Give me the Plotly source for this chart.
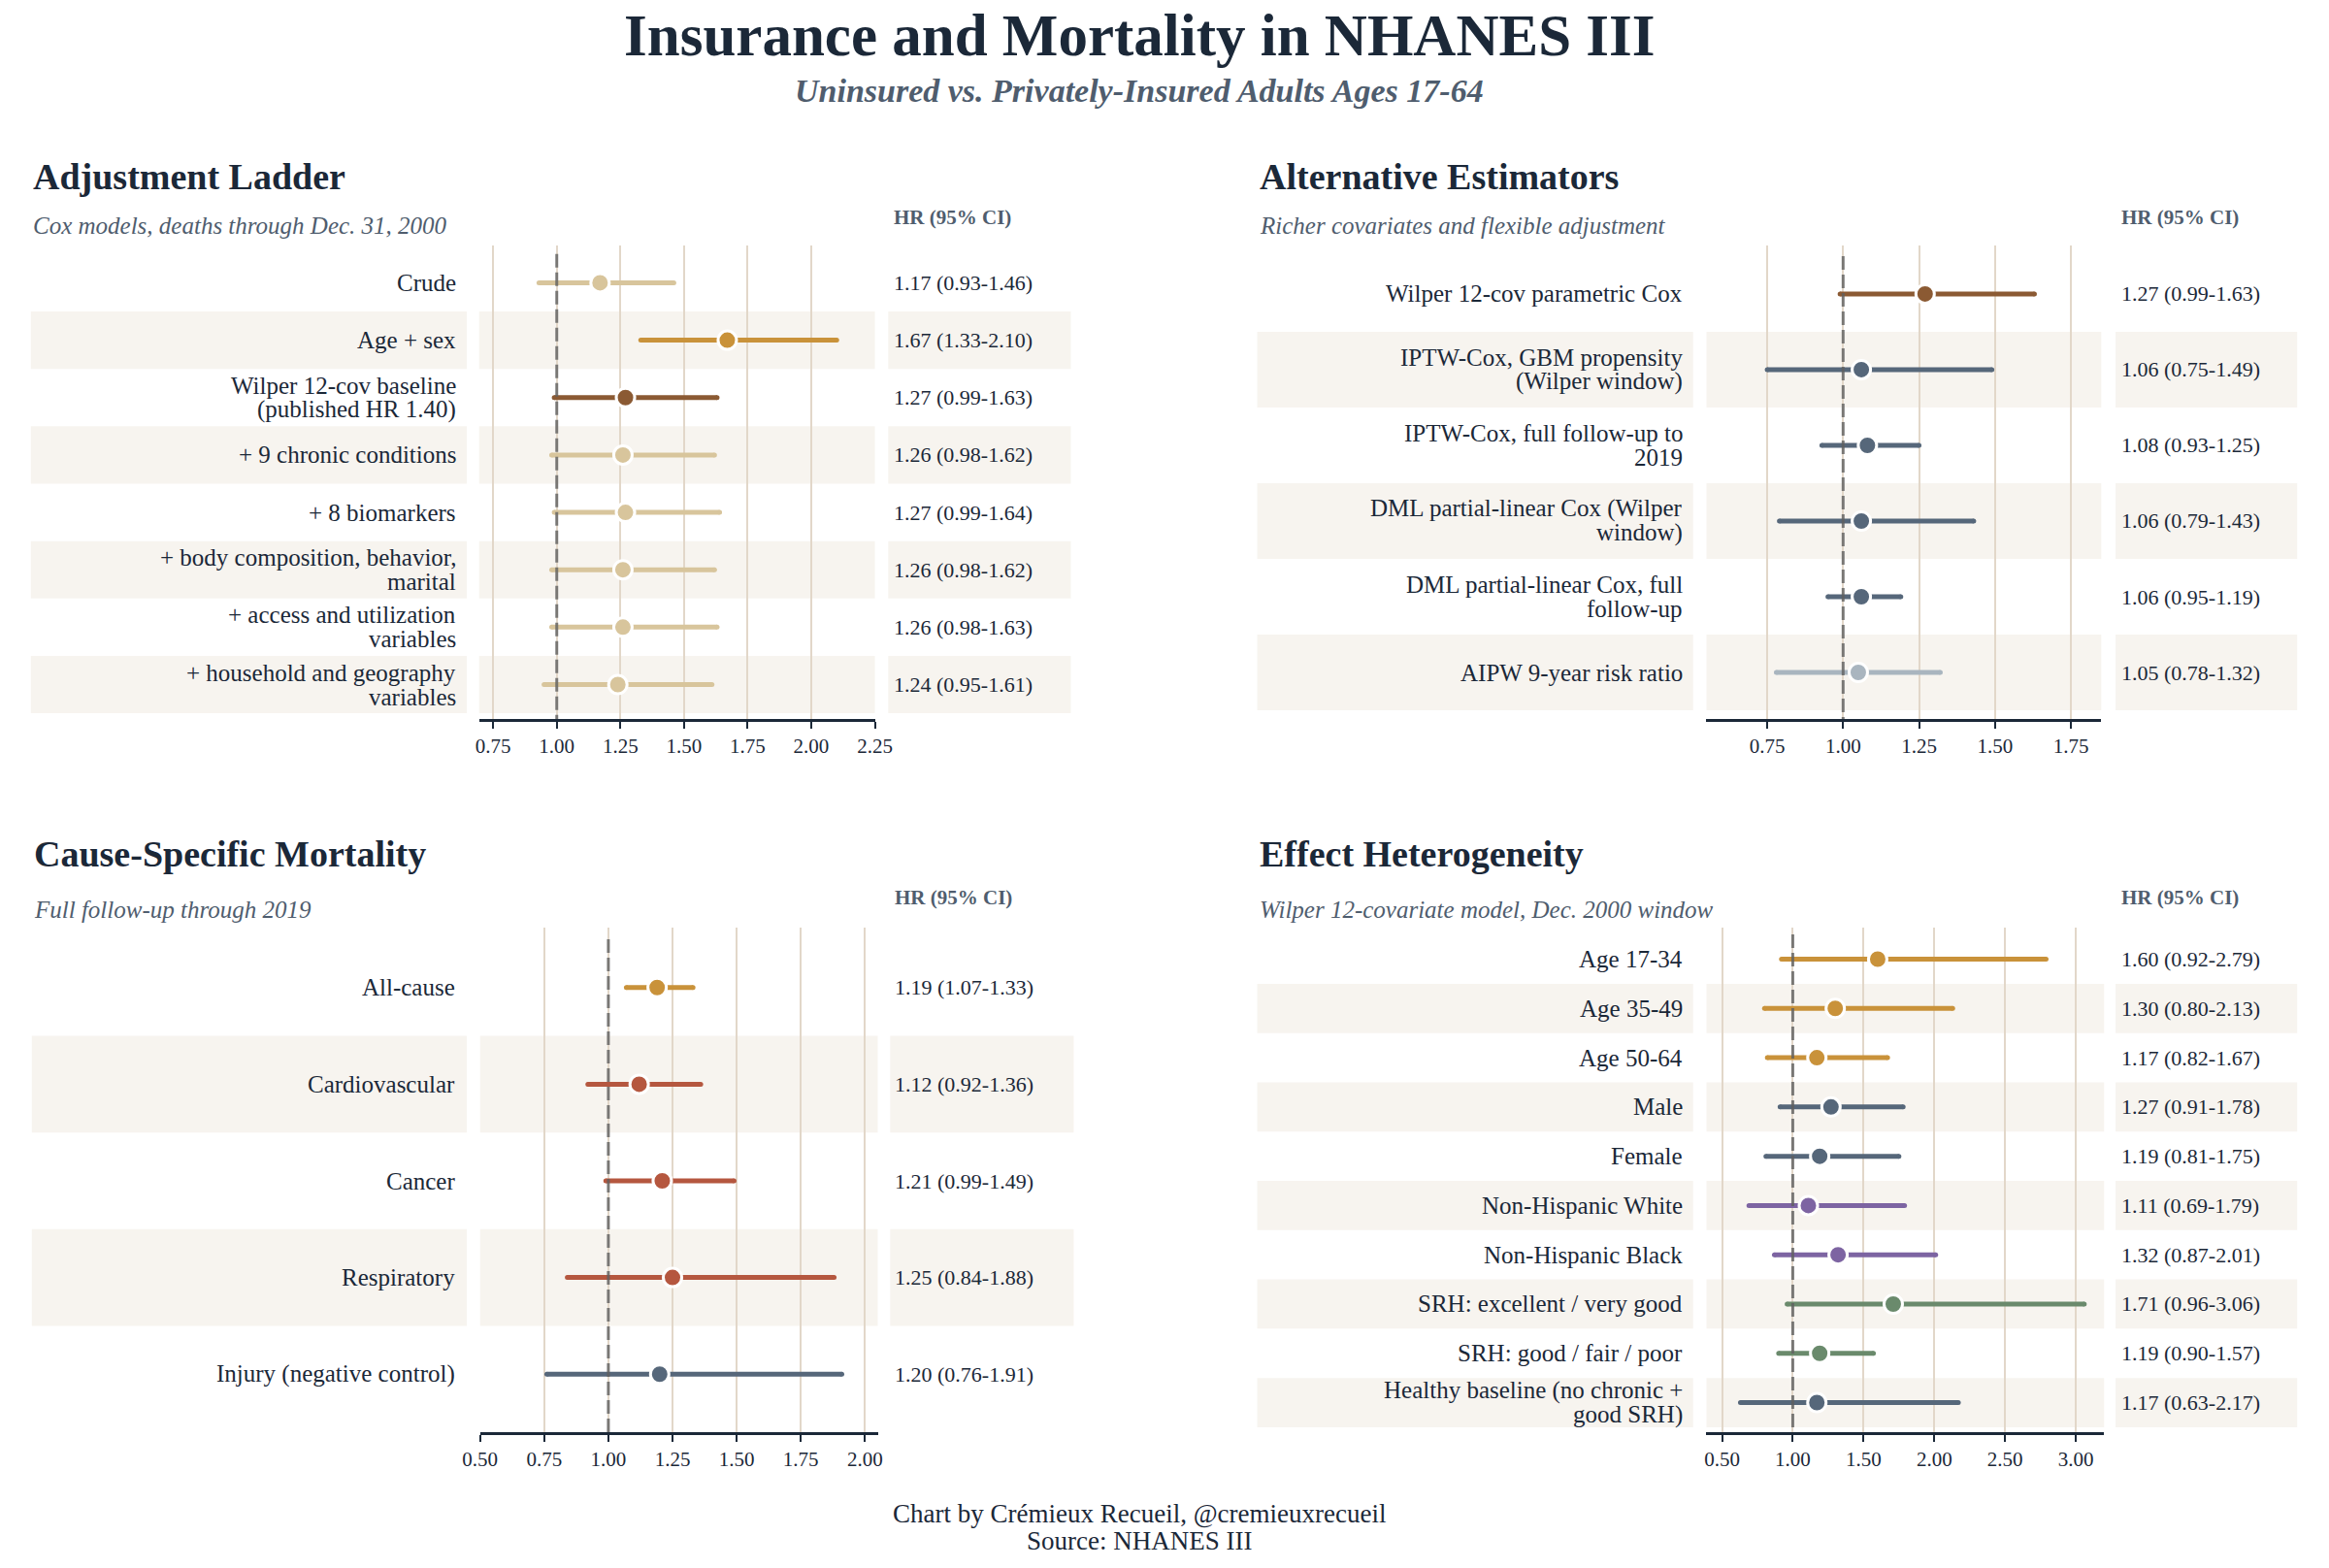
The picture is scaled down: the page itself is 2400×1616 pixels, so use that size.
import plotly.graph_objects as go

# ---------------- DATA ----------------
p1_labels = ["Crude", "Age + sex", "Wilper 12-cov baseline<br>(published HR 1.40)",
             "+ 9 chronic conditions", "+ 8 biomarkers",
             "+ body composition, behavior,<br>marital", "+ access and utilization<br>variables",
             "+ household and geography<br>variables"]
p1_hr = [1.17, 1.67, 1.27, 1.26, 1.27, 1.26, 1.26, 1.24]
p1_lo = [0.93, 1.33, 0.99, 0.98, 0.99, 0.98, 0.98, 0.95]
p1_hi = [1.46, 2.10, 1.63, 1.62, 1.64, 1.62, 1.63, 1.61]

p2_labels = ["Wilper 12-cov parametric Cox", "IPTW-Cox, GBM propensity<br>(Wilper window)",
             "IPTW-Cox, full follow-up to<br>2019", "DML partial-linear Cox (Wilper<br>window)",
             "DML partial-linear Cox, full<br>follow-up", "AIPW 9-year risk ratio"]
p2_hr = [1.27, 1.06, 1.08, 1.06, 1.06, 1.05]
p2_lo = [0.99, 0.75, 0.93, 0.79, 0.95, 0.78]
p2_hi = [1.63, 1.49, 1.25, 1.43, 1.19, 1.32]

p3_labels = ["All-cause", "Cardiovascular", "Cancer", "Respiratory", "Injury (negative control)"]
p3_hr = [1.19, 1.12, 1.21, 1.25, 1.20]
p3_lo = [1.07, 0.92, 0.99, 0.84, 0.76]
p3_hi = [1.33, 1.36, 1.49, 1.88, 1.91]

p4_labels = ["Age 17-34", "Age 35-49", "Age 50-64", "Male", "Female", "Non-Hispanic White",
             "Non-Hispanic Black", "SRH: excellent / very good", "SRH: good / fair / poor",
             "Healthy baseline (no chronic +<br>good SRH)"]
p4_hr = [1.60, 1.30, 1.17, 1.27, 1.19, 1.11, 1.32, 1.71, 1.19, 1.17]
p4_lo = [0.92, 0.80, 0.82, 0.91, 0.81, 0.69, 0.87, 0.96, 0.90, 0.63]
p4_hi = [2.79, 2.13, 1.67, 1.78, 1.75, 1.79, 2.01, 3.06, 1.57, 2.17]

p1_ticks = [0.75, 1.00, 1.25, 1.50, 1.75, 2.00, 2.25]
p2_ticks = [0.75, 1.00, 1.25, 1.50, 1.75]
p3_ticks = [0.50, 0.75, 1.00, 1.25, 1.50, 1.75, 2.00]
p4_ticks = [0.50, 1.00, 1.50, 2.00, 2.50, 3.00]

titles = ["Adjustment Ladder", "Alternative Estimators", "Cause-Specific Mortality", "Effect Heterogeneity"]
subtitles = ["Cox models, deaths through Dec. 31, 2000", "Richer covariates and flexible adjustment",
             "Full follow-up through 2019", "Wilper 12-covariate model, Dec. 2000 window"]

# ---------------- STYLE ----------------
COL = {"tan": "#D8C59C", "gold": "#C9923A", "brown": "#8B5A33", "slate": "#56677A",
       "lslate": "#A9B5BF", "rust": "#B5573F", "purple": "#7D64A2", "green": "#6A8A6C"}
p1_groups = ["tan", "gold", "brown", "tan", "tan", "tan", "tan", "tan"]
p2_groups = ["brown", "slate", "slate", "slate", "slate", "lslate"]
p3_groups = ["gold", "rust", "rust", "rust", "slate"]
p4_groups = ["gold", "gold", "gold", "slate", "slate", "purple", "purple", "green", "green", "slate"]

W, H = 2400, 1616
FONT = "Liberation Serif"
NAVY = "#1B2838"
SLATE_TXT = "#4F5D6E"
STRIPE = "#F7F4EF"
GRID = "#E2D7C9"
LINE_GAP = 25  # px between the two lines of a wrapped label

def px(x):
    return x / W

def py(y):
    return 1 - y / H

panels = [
    dict(labels=p1_labels, hr=p1_hr, lo=p1_lo, hi=p1_hi, groups=p1_groups, ticks=p1_ticks,
         xdom=(483, 897), ydom=(253, 741), xr=[0.695, 2.25], yr=[7.6, -0.65],
         lab=(14, 470), txt=(911, 1102), labx=461, hrx=915, tx=14, ty=(182, 233, 224)),
    dict(labels=p2_labels, hr=p2_hr, lo=p2_lo, hi=p2_hi, groups=p2_groups, ticks=p2_ticks,
         xdom=(1767, 2180), ydom=(253, 741), xr=[0.55, 1.85], yr=[5.615, -0.64],
         lab=(1297, 1753), txt=(2195, 2385), labx=1744, hrx=2199, tx=1297, ty=(182, 233, 224)),
    dict(labels=p3_labels, hr=p3_hr, lo=p3_lo, hi=p3_hi, groups=p3_groups, ticks=p3_ticks,
         xdom=(484, 900), ydom=(956, 1476), xr=[0.50, 2.05], yr=[4.6, -0.62],
         lab=(15, 470), txt=(913, 1105), labx=460, hrx=916, tx=15, ty=(880, 937, 925)),
    dict(labels=p4_labels, hr=p4_hr, lo=p4_lo, hi=p4_hi, groups=p4_groups, ticks=p4_ticks,
         xdom=(1767, 2183), ydom=(956, 1476), xr=[0.39, 3.2], yr=[9.6, -0.64],
         lab=(1297, 1753), txt=(2195, 2385), labx=1744, hrx=2199, tx=1297, ty=(880, 937, 925)),
]

fig = go.Figure()
shapes = []
annotations = []
layout_axes = {}

for k, p in enumerate(panels):
    n = len(p["hr"])
    sfx = "" if k == 0 else str(k + 1)
    xa, ya = "x" + sfx, "y" + sfx
    layout_axes["xaxis" + sfx] = dict(
        domain=[px(p["xdom"][0]), px(p["xdom"][1])], anchor=ya, range=p["xr"],
        tickvals=p["ticks"], ticktext=["%.2f" % t for t in p["ticks"]],
        showgrid=True, gridcolor=GRID, gridwidth=2, zeroline=False,
        showline=True, linecolor=NAVY, linewidth=3, ticks="outside", ticklen=7,
        tickwidth=2, tickcolor=NAVY, tickfont=dict(family=FONT, size=21, color=NAVY),
        fixedrange=True)
    layout_axes["yaxis" + sfx] = dict(
        domain=[py(p["ydom"][1]), py(p["ydom"][0])], anchor=xa, range=p["yr"],
        showgrid=False, zeroline=False, showticklabels=False, showline=False, fixedrange=True)

    # stripes
    for i in range(1, n, 2):
        for (a, b) in [p["lab"], p["xdom"], p["txt"]]:
            shapes.append(dict(type="rect", xref="paper", yref=ya, x0=px(a), x1=px(b),
                               y0=i - 0.5, y1=i + 0.5, fillcolor=STRIPE, line=dict(width=0),
                               layer="below"))

    # CI lines (end markers give round caps)
    for i in range(n):
        c = COL[p["groups"][i]]
        fig.add_trace(go.Scatter(x=[p["lo"][i], p["hi"][i]], y=[i, i], xaxis=xa, yaxis=ya,
                                 mode="lines+markers", line=dict(color=c, width=5),
                                 marker=dict(size=5, color=c, line=dict(width=0)),
                                 hoverinfo="skip", showlegend=False))
    # reference line at HR = 1
    fig.add_trace(go.Scatter(x=[1, 1], y=[-0.5, p["yr"][0]], xaxis=xa, yaxis=ya, mode="lines",
                             line=dict(color="rgba(95,95,95,0.8)", width=3, dash="14px,5px"),
                             hoverinfo="skip", showlegend=False))
    # point estimates
    fig.add_trace(go.Scatter(x=p["hr"], y=list(range(n)), xaxis=xa, yaxis=ya, mode="markers",
                             marker=dict(size=19, color=[COL[g] for g in p["groups"]],
                                         line=dict(color="white", width=3)),
                             hoverinfo="skip", showlegend=False))

    # labels & values
    for i in range(n):
        lines = p["labels"][i].split("<br>")
        m = len(lines)
        for j, ln in enumerate(lines):
            shift = ((m - 1) / 2 - j) * LINE_GAP
            annotations.append(dict(xref="paper", yref=ya, x=px(p["labx"]), y=i, yshift=shift,
                                    text=ln, xanchor="right", yanchor="middle", align="right",
                                    showarrow=False, font=dict(family=FONT, size=25, color=NAVY)))
        annotations.append(dict(xref="paper", yref=ya, x=px(p["hrx"]), y=i,
                                text="%.2f (%.2f-%.2f)" % (p["hr"][i], p["lo"][i], p["hi"][i]),
                                xanchor="left", yanchor="middle", showarrow=False,
                                font=dict(family=FONT, size=22, color=NAVY)))
    # panel title, subtitle, header
    annotations.append(dict(xref="paper", yref="paper", x=px(p["tx"]), y=py(p["ty"][0]),
                            text="<b>%s</b>" % titles[k], xanchor="left", yanchor="middle",
                            showarrow=False, font=dict(family=FONT, size=38, color=NAVY)))
    annotations.append(dict(xref="paper", yref="paper", x=px(p["tx"]), y=py(p["ty"][1]),
                            text="<i>%s</i>" % subtitles[k], xanchor="left", yanchor="middle",
                            showarrow=False, font=dict(family=FONT, size=25, color=SLATE_TXT)))
    annotations.append(dict(xref="paper", yref="paper", x=px(p["hrx"]), y=py(p["ty"][2]),
                            text="<b>HR (95% CI)</b>", xanchor="left", yanchor="middle",
                            showarrow=False, font=dict(family=FONT, size=21, color=SLATE_TXT)))

# main title, subtitle, footer
annotations.append(dict(xref="paper", yref="paper", x=px(1174), y=py(36),
                        text="<b>Insurance and Mortality in NHANES III</b>", xanchor="center",
                        yanchor="middle", showarrow=False, font=dict(family=FONT, size=61, color=NAVY)))
annotations.append(dict(xref="paper", yref="paper", x=px(1174), y=py(93),
                        text="<b><i>Uninsured vs. Privately-Insured Adults Ages 17-64</i></b>",
                        xanchor="center", yanchor="middle", showarrow=False,
                        font=dict(family=FONT, size=34, color=SLATE_TXT)))
annotations.append(dict(xref="paper", yref="paper", x=px(1174), y=py(1560),
                        text="Chart by Crémieux Recueil, @cremieuxrecueil", xanchor="center",
                        yanchor="middle", showarrow=False, font=dict(family=FONT, size=27, color=NAVY)))
annotations.append(dict(xref="paper", yref="paper", x=px(1174), y=py(1588),
                        text="Source: NHANES III", xanchor="center",
                        yanchor="middle", showarrow=False, font=dict(family=FONT, size=27, color=NAVY)))

fig.update_layout(width=W, height=H, margin=dict(l=0, r=0, t=0, b=0),
                  paper_bgcolor="white", plot_bgcolor="white", showlegend=False,
                  shapes=shapes, annotations=annotations, font=dict(family=FONT, color=NAVY),
                  **layout_axes)

fig.write_html("out.html", config={"displayModeBar": False},
               post_script="document.body.style.margin='0';document.body.style.overflow='hidden';")
